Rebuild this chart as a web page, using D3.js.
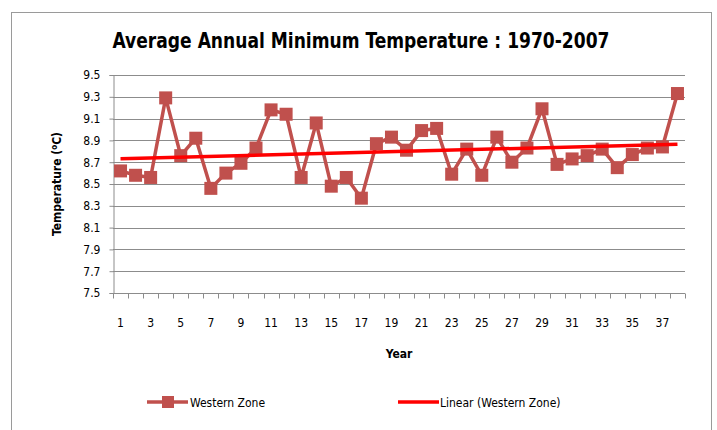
<!DOCTYPE html>
<html>
<head>
<meta charset="utf-8">
<script src="https://cdn.jsdelivr.net/npm/d3@7"></script>
<style>
  body { margin: 0; background: #fff; }
  svg text { font-family: "Liberation Sans Narrow", "DejaVu Sans Condensed", "Open Sans", sans-serif; fill: #000; }
</style>
</head>
<body>
<div id="chart"></div>
<script>
var width = 717;
var height = 430;

// chart values
var years = d3.range(1, 39); // 1 .. 38  (1970-2007)
var westernZone = [8.62, 8.58, 8.56, 9.29, 8.76, 8.92, 8.46, 8.60, 8.69, 8.83,
                   9.18, 9.14, 8.56, 9.06, 8.48, 8.56, 8.37, 8.87, 8.93, 8.81,
                   8.99, 9.01, 8.59, 8.82, 8.58, 8.93, 8.70, 8.83, 9.19, 8.68,
                   8.73, 8.76, 8.82, 8.65, 8.77, 8.83, 8.84, 9.33];
var yTicks = [7.5, 7.7, 7.9, 8.1, 8.3, 8.5, 8.7, 8.9, 9.1, 9.3, 9.5];
var xLabels = years.filter(function (d) { return d % 2 == 1; });

var titleText = "Average Annual Minimum Temperature : 1970-2007";
var seriesName = "Western Zone";
var trendName = "Linear (Western Zone)";

var seriesColor = "#c0504d";
var trendColor = "#ff0000";
var gridColor = "#8c8c8c";

var plot = { left: 113, right: 685, top: 75, bottom: 293 };

var svg = d3.select("#chart")
  .append("svg")
  .attr("width", width)
  .attr("height", height);

// outer chart frame
svg.append("rect")
  .attr("x", 11.5).attr("y", 12.5)
  .attr("width", 700).attr("height", 440)
  .attr("fill", "none")
  .attr("stroke", "#9a9a9a");

// title squeezed to the width it has in the original
svg.append("text")
  .attr("x", 361).attr("y", 48)
  .attr("text-anchor", "middle")
  .attr("textLength", 497)
  .attr("lengthAdjust", "spacingAndGlyphs")
  .style("font-size", "22px")
  .style("font-weight", "bold")
  .text(titleText);

var xScale = d3.scaleBand()
  .domain(years)
  .range([plot.left, plot.right])
  .padding(0);

var yScale = d3.scaleLinear()
  .domain([7.5, 9.5])
  .range([plot.bottom, plot.top]);

// horizontal grid lines
svg.append("g")
  .selectAll("line")
  .data(yTicks)
  .enter()
  .append("line")
  .attr("x1", plot.left).attr("x2", plot.right)
  .attr("y1", function (d) { return Math.round(yScale(d)) + 0.5; })
  .attr("y2", function (d) { return Math.round(yScale(d)) + 0.5; })
  .attr("stroke", gridColor);

// y axis
var yAxis = d3.axisLeft(yScale)
  .tickValues(yTicks)
  .tickSize(4)
  .tickPadding(9)
  .tickFormat(d3.format(".1f"));

var yg = svg.append("g")
  .attr("transform", "translate(" + (plot.left + 0.5) + ",0)")
  .call(yAxis);
yg.select(".domain").attr("stroke", gridColor);
yg.selectAll(".tick line").attr("stroke", gridColor);
yg.selectAll(".tick text").style("font-size", "12px").attr("font-family", null);

// x axis: tick marks at category boundaries, labels on odd years
var xg = svg.append("g")
  .attr("transform", "translate(0," + (Math.round(plot.bottom) + 0.5) + ")");

xg.append("line")
  .attr("x1", plot.left).attr("x2", plot.right)
  .attr("stroke", gridColor);

xg.selectAll("line.tk")
  .data(years.concat([null]))
  .enter()
  .append("line")
  .attr("class", "tk")
  .attr("x1", function (d) { return Math.round(d == null ? plot.right : xScale(d)) + 0.5; })
  .attr("x2", function (d) { return Math.round(d == null ? plot.right : xScale(d)) + 0.5; })
  .attr("y1", 0).attr("y2", 5)
  .attr("stroke", gridColor);

xg.selectAll("text")
  .data(xLabels)
  .enter()
  .append("text")
  .attr("x", function (d) { return xScale(d) + xScale.bandwidth() / 2; })
  .attr("y", 33)
  .attr("text-anchor", "middle")
  .style("font-size", "12px")
  .text(function (d) { return d; });

// axis titles
svg.append("text")
  .attr("x", 399).attr("y", 358)
  .attr("text-anchor", "middle")
  .style("font-size", "12px")
  .style("font-weight", "bold")
  .text("Year");

var yTitle = svg.append("text")
  .attr("transform", "translate(61," + (yScale(8.5)) + ") rotate(-90)")
  .attr("text-anchor", "middle")
  .style("font-size", "12px")
  .style("font-weight", "bold");
yTitle.append("tspan").text("Temperature (");
yTitle.append("tspan").attr("baseline-shift", "super").style("font-size", "8px").text("o");
yTitle.append("tspan").text("C)");

// data series
var pts = years.map(function (d, i) { return { year: d, value: westernZone[i] }; });

var line = d3.line()
  .x(function (d) { return xScale(d.year) + xScale.bandwidth() / 2; })
  .y(function (d) { return yScale(d.value); });

svg.append("path")
  .datum(pts)
  .attr("d", line)
  .attr("fill", "none")
  .attr("stroke", seriesColor)
  .attr("stroke-width", 3.5)
  .attr("stroke-linejoin", "round");

svg.append("g")
  .selectAll("rect")
  .data(pts)
  .enter()
  .append("rect")
  .attr("x", function (d) { return xScale(d.year) + xScale.bandwidth() / 2 - 6.5; })
  .attr("y", function (d) { return yScale(d.value) - 6.5; })
  .attr("width", 13).attr("height", 13)
  .attr("fill", seriesColor);

// linear trend (least squares, like Excel)
var mx = d3.mean(years);
var my = d3.mean(westernZone);
var slope = d3.sum(years, function (d, i) { return (d - mx) * (westernZone[i] - my); }) /
            d3.sum(years, function (d) { return (d - mx) * (d - mx); });
var trend = [years[0], years[years.length - 1]].map(function (d) {
  return { year: d, value: my + slope * (d - mx) };
});

svg.append("path")
  .datum(trend)
  .attr("d", line)
  .attr("fill", "none")
  .attr("stroke", trendColor)
  .attr("stroke-width", 3.5);

// legend
var legend = svg.append("g").attr("transform", "translate(0,402)");

legend.append("line")
  .attr("x1", 147).attr("x2", 188).attr("y1", 0).attr("y2", 0)
  .attr("stroke", seriesColor).attr("stroke-width", 3.5);
legend.append("rect")
  .attr("x", 162).attr("y", -6).attr("width", 12).attr("height", 12)
  .attr("fill", seriesColor);
legend.append("text")
  .attr("x", 190).attr("y", 4.5)
  .style("font-size", "12px")
  .text(seriesName);

legend.append("line")
  .attr("x1", 398).attr("x2", 439).attr("y1", 0).attr("y2", 0)
  .attr("stroke", trendColor).attr("stroke-width", 3.5);
legend.append("text")
  .attr("x", 440).attr("y", 4.5)
  .style("font-size", "12px")
  .text(trendName);
</script>
</body>
</html>
